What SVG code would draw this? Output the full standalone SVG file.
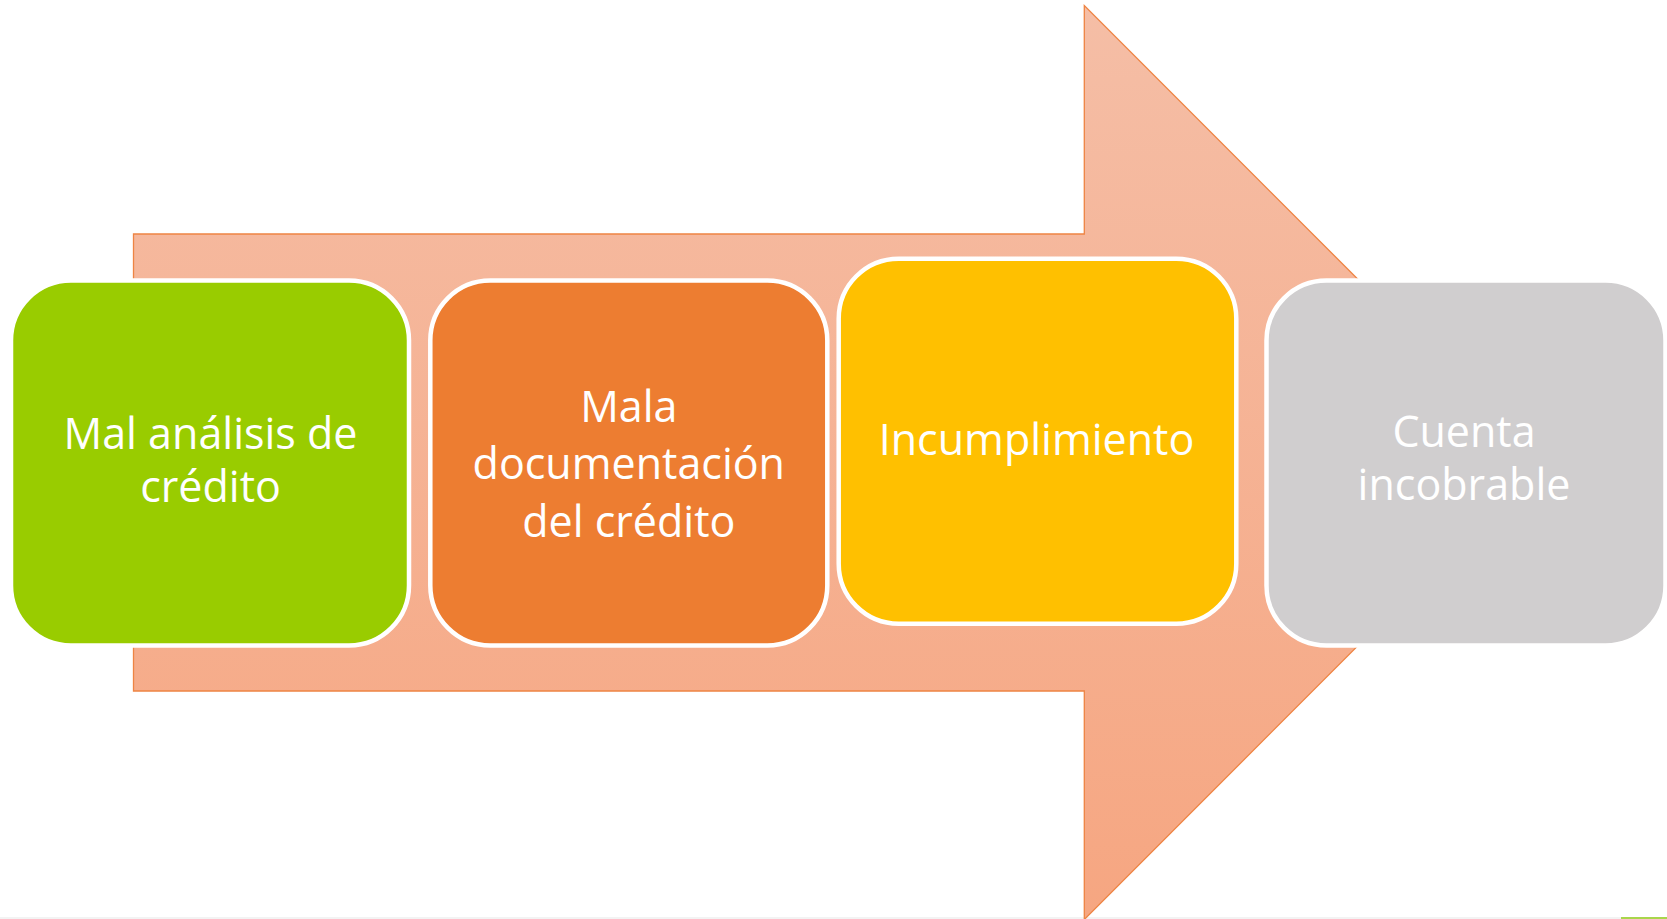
<svg xmlns="http://www.w3.org/2000/svg" width="1667" height="919" viewBox="0 0 1667 919">
<style>
.box{stroke:#FFFFFF;stroke-width:4.5}
.lbl{font-family:"Open Sans","Noto Sans","Liberation Sans",sans-serif;font-size:43px;fill:#FFFFFF;text-anchor:middle}
</style>
<defs>
<linearGradient id="arrowGrad" x1="0" y1="0" x2="0" y2="1">
<stop offset="0" stop-color="#F5BEA6"/>
<stop offset="1" stop-color="#F6A681"/>
</linearGradient>
</defs>
<rect x="0" y="0" width="1667" height="919" fill="#FFFFFF"/>
<rect x="0" y="917" width="1667" height="2" fill="#F3F3F3"/>
<rect x="1621" y="917" width="46" height="2" fill="#A9D64B"/>
<g id="connectors">
<polygon id="arrow" points="133.5,234 1084.3,234 1084.3,5.5 1541,462.5 1084.3,919.5 1084.3,691 133.5,691" fill="url(#arrowGrad)" stroke="#EE8443" stroke-width="1.3"/>
</g>
<g id="node1">
<rect class="box" x="11" y="280.5" width="398" height="365" rx="60" ry="60" fill="#99CC00"/>
<text class="lbl" x="210.5" y="449">Mal análisis de</text>
<text class="lbl" x="210.5" y="501.5">crédito</text>
</g>
<g id="node2">
<rect class="box" x="430.3" y="280.5" width="397" height="365" rx="60" ry="60" fill="#ED7D31"/>
<text class="lbl" x="628.8" y="421.7">Mala</text>
<text class="lbl" x="628.8" y="479.3">documentación</text>
<text class="lbl" x="628.8" y="536.5">del crédito</text>
</g>
<g id="node3">
<rect class="box" x="838.7" y="258.7" width="397.6" height="365" rx="60" ry="60" fill="#FFC000"/>
<text class="lbl" x="1036.5" y="455">Incumplimiento</text>
</g>
<g id="node4">
<rect class="box" x="1266.5" y="280.5" width="399" height="365" rx="60" ry="60" fill="#D0CECF"/>
<text class="lbl" x="1464" y="446.7">Cuenta</text>
<text class="lbl" x="1464" y="500">incobrable</text>
</g>
</svg>
